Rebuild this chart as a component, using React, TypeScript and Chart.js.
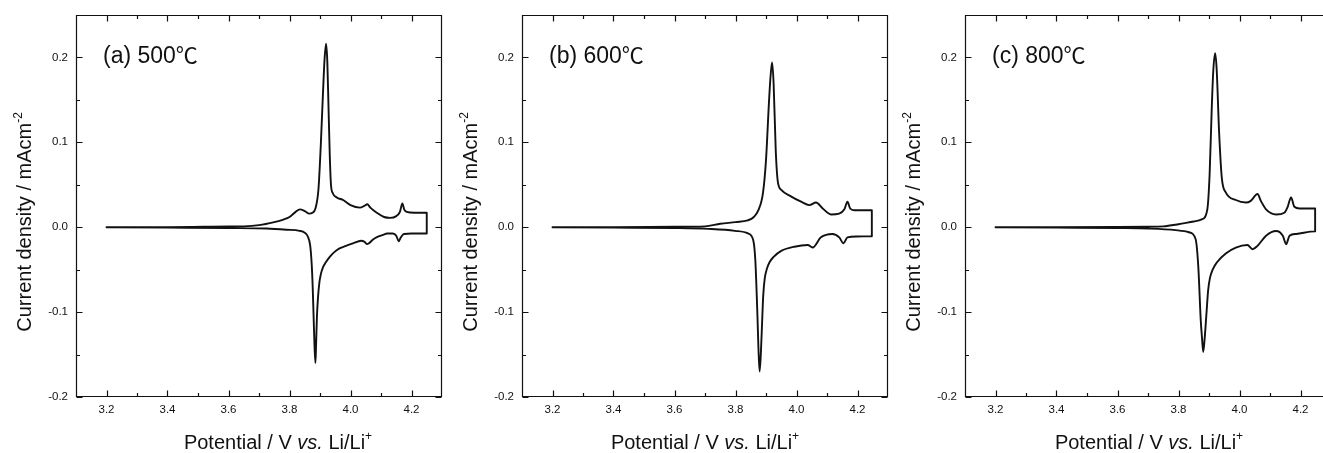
import React, { useEffect, useRef } from "react";
import { Chart, registerables } from "chart.js";

Chart.register(...registerables);

// ---------- tick values ----------
const xMajorTicks = [3.2, 3.4, 3.6, 3.8, 4.0, 4.2];
const xMinorTicks = [3.3, 3.5, 3.7, 3.9, 4.1];
const yMajorTicks = [-0.2, -0.1, 0.0, 0.1, 0.2];
const yMinorTicks = [-0.15, -0.05, 0.05, 0.15];

// ---------- panel (a) 500 ℃ ----------
const aUpPotential = [3.2, 3.4, 3.6, 3.65, 3.7, 3.75, 3.78, 3.8, 3.82, 3.834, 3.85, 3.865, 3.875, 3.885, 3.895, 3.903, 3.91, 3.915, 3.92, 3.924, 3.928, 3.932, 3.936, 3.942, 3.955, 3.976, 4.0, 4.031, 4.045, 4.055, 4.065, 4.086, 4.11, 4.13, 4.15, 4.162, 4.17, 4.176, 4.184, 4.21, 4.25];
const aUpCurrent = [0, 0, 0.0008, 0.001, 0.0024, 0.006, 0.009, 0.012, 0.018, 0.021, 0.019, 0.016, 0.017, 0.022, 0.045, 0.1, 0.16, 0.198, 0.216, 0.195, 0.14, 0.085, 0.05, 0.04, 0.035, 0.032, 0.026, 0.023, 0.025, 0.027, 0.023, 0.017, 0.012, 0.011, 0.013, 0.018, 0.028, 0.021, 0.018, 0.017, 0.017];
const aDownPotential = [4.25, 4.2, 4.175, 4.165, 4.158, 4.15, 4.139, 4.12, 4.107, 4.085, 4.074, 4.055, 4.045, 4.035, 4.008, 3.985, 3.964, 3.945, 3.932, 3.918, 3.91, 3.903, 3.898, 3.893, 3.89, 3.887, 3.885, 3.882, 3.879, 3.876, 3.873, 3.868, 3.86, 3.85, 3.833, 3.79, 3.724, 3.6, 3.4, 3.2];
const aDownCurrent = [-0.0075, -0.0075, -0.008, -0.012, -0.0165, -0.01, -0.0075, -0.0075, -0.009, -0.012, -0.0145, -0.02, -0.017, -0.016, -0.019, -0.022, -0.025, -0.03, -0.035, -0.042, -0.047, -0.055, -0.065, -0.085, -0.105, -0.14, -0.16, -0.14, -0.105, -0.07, -0.045, -0.022, -0.011, -0.0065, -0.0043, -0.003, -0.0016, -0.001, -0.0005, 0];

// ---------- panel (b) 600 ℃ ----------
const bUpPotential = [3.2, 3.4, 3.6, 3.7, 3.75, 3.8, 3.84, 3.86, 3.875, 3.89, 3.9, 3.91, 3.915, 3.92, 3.925, 3.932, 3.939, 3.95, 3.983, 4.015, 4.042, 4.064, 4.086, 4.113, 4.14, 4.157, 4.167, 4.176, 4.189, 4.247];
const bUpCurrent = [0, 0, 0.0005, 0.001, 0.004, 0.006, 0.008, 0.012, 0.02, 0.04, 0.079, 0.149, 0.178, 0.194, 0.169, 0.09, 0.053, 0.044, 0.036, 0.03, 0.026, 0.029, 0.022, 0.015, 0.016, 0.021, 0.03, 0.022, 0.02, 0.02];
const bDownPotential = [4.247, 4.2, 4.167, 4.154, 4.14, 4.118, 4.08, 4.053, 4.037, 3.993, 3.95, 3.925, 3.912, 3.903, 3.896, 3.891, 3.888, 3.883, 3.879, 3.875, 3.872, 3.865, 3.858, 3.841, 3.798, 3.711, 3.6, 3.4, 3.2];
const bDownCurrent = [-0.0106, -0.011, -0.012, -0.019, -0.012, -0.008, -0.012, -0.024, -0.021, -0.023, -0.028, -0.035, -0.041, -0.049, -0.06, -0.08, -0.105, -0.15, -0.17, -0.14, -0.105, -0.039, -0.015, -0.0074, -0.0043, -0.002, -0.001, -0.0005, 0];

// ---------- panel (c) 800 ℃ ----------
const cUpPotential = [3.2, 3.4, 3.6, 3.7, 3.75, 3.8, 3.85, 3.878, 3.8945, 3.902, 3.909, 3.914, 3.92, 3.925, 3.933, 3.942, 3.955, 3.988, 4.021, 4.037, 4.059, 4.07, 4.087, 4.12, 4.147, 4.158, 4.169, 4.18, 4.197, 4.248];
const cUpCurrent = [0, 0, 0.0003, 0.0006, 0.001, 0.0035, 0.0067, 0.0094, 0.021, 0.062, 0.14, 0.184, 0.205, 0.187, 0.113, 0.058, 0.041, 0.032, 0.029, 0.031, 0.039, 0.031, 0.021, 0.015, 0.017, 0.024, 0.035, 0.024, 0.022, 0.022];
const cDownPotential = [4.248, 4.186, 4.164, 4.153, 4.142, 4.12, 4.087, 4.059, 4.043, 4.026, 3.988, 3.955, 3.927, 3.912, 3.903, 3.897, 3.892, 3.886, 3.881, 3.877, 3.873, 3.865, 3.856, 3.834, 3.79, 3.702, 3.6, 3.4, 3.2];
const cDownCurrent = [-0.005, -0.008, -0.01, -0.02, -0.01, -0.0045, -0.01, -0.022, -0.026, -0.021, -0.024, -0.031, -0.041, -0.05, -0.06, -0.075, -0.1, -0.13, -0.147, -0.13, -0.11, -0.047, -0.014, -0.006, -0.0035, -0.0016, -0.001, -0.0005, 0];

const FONT = '"Liberation Sans", Arial, Helvetica, sans-serif';
const CJK_FONT = '"Noto Sans CJK SC", "Noto Sans CJK JP", sans-serif';
const INK = "#111";

const CANVAS_W = 460;
const CANVAS_H = 453;
const AXIS_W = 76;
const RIGHT_PAD = 18;
const TOP_PAD = 14;
const XAXIS_H = 56;

type PanelProps = {
  left: number;
  label: string;
  titleCenter: number;
  upV: number[];
  upI: number[];
  downV: number[];
  downI: number[];
};

function drawParts(ctx: CanvasRenderingContext2D, parts: { t: string; f: string; dy?: number }[], startX: number, y: number) {
  let x = startX;
  for (const p of parts) {
    ctx.font = p.f;
    ctx.fillText(p.t, x, y + (p.dy || 0));
    x += ctx.measureText(p.t).width;
  }
}
function partsWidth(ctx: CanvasRenderingContext2D, parts: { t: string; f: string }[]) {
  let w = 0;
  for (const p of parts) {
    ctx.font = p.f;
    w += ctx.measureText(p.t).width;
  }
  return w;
}

function Panel(props: PanelProps) {
  const ref = useRef<HTMLCanvasElement | null>(null);
  useEffect(() => {
    if (!ref.current) return;
    const pts = [
      ...props.upV.map((v, i) => ({ x: v, y: props.upI[i] })),
      ...props.downV.map((v, i) => ({ x: v, y: props.downI[i] })),
    ];
    const decor = {
      id: "cvDecor",
      afterDraw(chart: any) {
        const ctx: CanvasRenderingContext2D = chart.ctx;
        const { left, right, top, bottom } = chart.chartArea;
        const xs = chart.scales.x;
        const ys = chart.scales.y;
        const L = Math.round(left) + 0.5;
        const R = Math.round(right) - 0.5;
        const T = Math.round(top) + 0.5;
        const B = Math.round(bottom) - 0.5;
        ctx.save();
        ctx.strokeStyle = INK;
        ctx.lineWidth = 1.2;
        ctx.beginPath();
        ctx.moveTo(L, T);
        ctx.lineTo(R, T);
        ctx.lineTo(R, B);
        ctx.lineTo(L, B);
        ctx.closePath();
        ctx.stroke();
        ctx.beginPath();
        const xt = (vals: number[], len: number) => {
          for (const v of vals) {
            const px = Math.round(xs.getPixelForValue(v)) + 0.5;
            ctx.moveTo(px, B);
            ctx.lineTo(px, B - len);
            ctx.moveTo(px, T);
            ctx.lineTo(px, T + len);
          }
        };
        const yt = (vals: number[], len: number) => {
          for (const v of vals) {
            const py = Math.round(ys.getPixelForValue(v)) + 0.5;
            ctx.moveTo(L, py);
            ctx.lineTo(L + len, py);
            ctx.moveTo(R, py);
            ctx.lineTo(R - len, py);
          }
        };
        xt(xMajorTicks, 6);
        xt(xMinorTicks, 3.5);
        yt(yMajorTicks, 6);
        yt(yMinorTicks, 3.5);
        ctx.stroke();

        ctx.fillStyle = INK;
        ctx.textBaseline = "alphabetic";
        ctx.textAlign = "left";
        // x title
        const xParts = [
          { t: "Potential / V ", f: `20px ${FONT}` },
          { t: "vs.", f: `italic 20px ${FONT}` },
          { t: " Li/Li", f: `20px ${FONT}` },
          { t: "+", f: `12px ${FONT}`, dy: -9 },
        ];
        const xw = partsWidth(ctx, xParts);
        drawParts(ctx, xParts, left + props.titleCenter - xw / 2, 449);
        // y title
        const yParts = [
          { t: "Current density / mAcm", f: `20px ${FONT}` },
          { t: "-2", f: `12px ${FONT}`, dy: -9 },
        ];
        const yw = partsWidth(ctx, yParts);
        ctx.save();
        ctx.translate(left - 45, (top + bottom) / 2 + 16);
        ctx.rotate(-Math.PI / 2);
        drawParts(ctx, yParts, -yw / 2, 0);
        ctx.restore();
        // panel label
        drawParts(
          ctx,
          [
            { t: props.label, f: `23px ${FONT}` },
            { t: "℃", f: `22px ${CJK_FONT}` },
          ],
          left + 27,
          63
        );
        ctx.restore();
      },
    };
    const tickFont = { family: FONT, size: 11.5 };
    const chart = new Chart(ref.current, {
      type: "scatter",
      data: {
        datasets: [
          {
            data: pts,
            showLine: true,
            borderColor: INK,
            backgroundColor: INK,
            borderWidth: 1.9,
            borderJoinStyle: "round",
            borderCapStyle: "round",
            pointRadius: 0,
            cubicInterpolationMode: "monotone",
            fill: false,
          } as any,
        ],
      },
      options: {
        animation: false,
        responsive: false,
        maintainAspectRatio: false,
        events: [],
        layout: { padding: { top: TOP_PAD, right: RIGHT_PAD, left: 0, bottom: 0 } },
        plugins: { legend: { display: false }, tooltip: { enabled: false } },
        scales: {
          x: {
            type: "linear",
            min: 3.1,
            max: 4.3,
            afterBuildTicks: (s: any) => {
              s.ticks = xMajorTicks.map((v) => ({ value: v }));
            },
            afterFit: (s: any) => {
              s.height = XAXIS_H;
            },
            grid: { display: false, drawTicks: false },
            border: { display: false },
            ticks: {
              padding: 6,
              font: tickFont,
              color: INK,
              maxRotation: 0,
              autoSkip: false,
              callback: (v: any) => Number(v).toFixed(1),
            },
          },
          y: {
            type: "linear",
            min: -0.2,
            max: 0.25,
            afterBuildTicks: (s: any) => {
              s.ticks = yMajorTicks.map((v) => ({ value: v }));
            },
            afterFit: (s: any) => {
              s.width = AXIS_W;
            },
            grid: { display: false, drawTicks: false },
            border: { display: false },
            ticks: {
              padding: 8,
              font: tickFont,
              color: INK,
              autoSkip: false,
              callback: (v: any) => Number(v).toFixed(1),
            },
          },
        },
      } as any,
      plugins: [decor],
    });
    return () => chart.destroy();
  }, []);
  return (
    <canvas
      ref={ref}
      width={CANVAS_W}
      height={CANVAS_H}
      style={{ position: "absolute", left: props.left, top: 0, width: CANVAS_W, height: CANVAS_H }}
    />
  );
}

export default function App() {
  return (
    <div
      style={{
        position: "absolute",
        left: 0,
        top: 0,
        width: 1323,
        height: 453,
        overflow: "hidden",
        background: "#fff",
      }}
    >
      <Panel left={0} label="(a) 500" titleCenter={202} upV={aUpPotential} upI={aUpCurrent} downV={aDownPotential} downI={aDownCurrent} />
      <Panel left={446} label="(b) 600" titleCenter={183} upV={bUpPotential} upI={bUpCurrent} downV={bDownPotential} downI={bDownCurrent} />
      <Panel left={889} label="(c) 800" titleCenter={184} upV={cUpPotential} upI={cUpCurrent} downV={cDownPotential} downI={cDownCurrent} />
    </div>
  );
}
